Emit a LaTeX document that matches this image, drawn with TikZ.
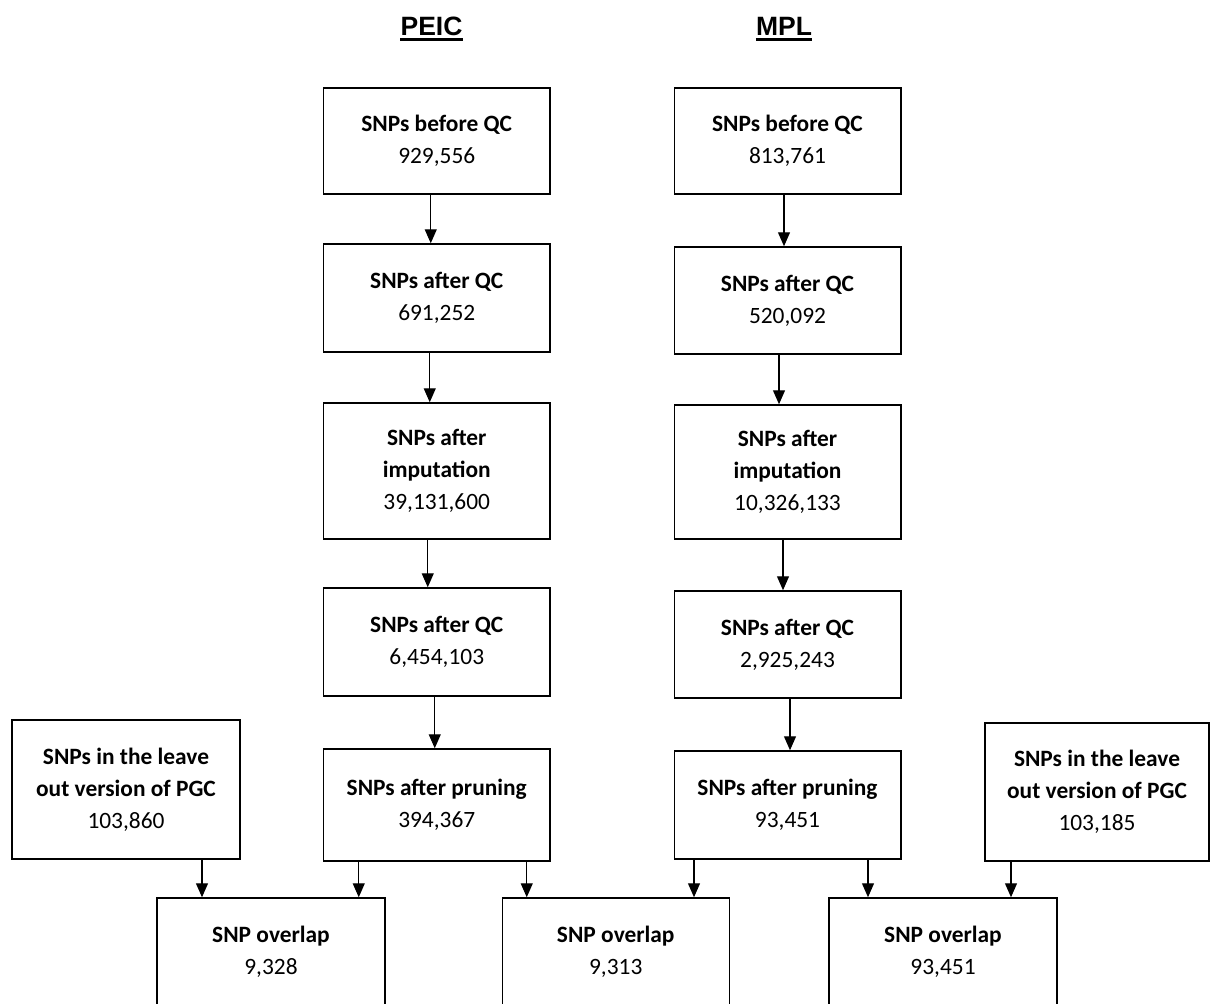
\documentclass[tikz,border=0pt]{standalone}
\usepackage{fontspec}
\setmainfont{Carlito}
\newfontfamily\titlefont{Liberation Sans}
\usetikzlibrary{arrows.meta}
\tikzset{
  stage/.style={draw, line width=1.5pt, minimum width=226.5pt, inner sep=0pt,
    align=center, font=\fontsize{23.4}{32}\selectfont},
  flow/.style={line width=1.2pt, -{Triangle[width=12pt,length=14pt]}},
  heading/.style={font=\titlefont\bfseries\fontsize{26.5}{30}\selectfont,
    inner sep=0pt, anchor=base},
  rule/.style={line width=2.4pt},
}
\begin{document}
\begin{tikzpicture}[x=1pt,y=-1pt]
\useasboundingbox (0,0) rectangle (1214,1003);
\clip (0,0) rectangle (1214,1003);

% column headings
\node[heading] (tp) at (431.5,36) {PEIC};
\node[heading] (tm) at (784,36) {MPL};
\draw[rule] ([yshift=-3.6pt]tp.base west) -- ([yshift=-3.6pt]tp.base east);
\draw[rule] ([yshift=-3.6pt]tm.base west) -- ([yshift=-3.6pt]tm.base east);

% PEIC pipeline
\node[stage, minimum height=106pt] (p1) at (436.75,141) {\textbf{SNPs before QC}\\929,556};
\node[stage, minimum height=108pt] (p2) at (436.75,298) {\textbf{SNPs after QC}\\691,252};
\node[stage, minimum height=136pt] (p3) at (436.75,471) {\textbf{SNPs after}\\\textbf{imputation}\\39,131,600};
\node[stage, minimum height=108pt] (p4) at (436.75,642) {\textbf{SNPs after QC}\\6,454,103};
\node[stage, minimum height=112pt] (p5) at (436.75,805) {\textbf{SNPs after pruning}\\394,367};

% MPL pipeline
\node[stage, minimum height=106pt] (m1) at (787.5,141) {\textbf{SNPs before QC}\\813,761};
\node[stage, minimum height=107pt] (m2) at (787.5,300.5) {\textbf{SNPs after QC}\\520,092};
\node[stage, minimum height=134pt] (m3) at (787.5,472) {\textbf{SNPs after}\\\textbf{imputation}\\10,326,133};
\node[stage, minimum height=107pt] (m4) at (787.5,644.5) {\textbf{SNPs after QC}\\2,925,243};
\node[stage, minimum height=108pt] (m5) at (787.5,805) {\textbf{SNPs after pruning}\\93,451};

% reference panels
\node[stage, minimum width=228pt, minimum height=139pt] (gl) at (126,789.5)
  {\textbf{SNPs in the leave}\\\textbf{out version of PGC}\\103,860};
\node[stage, minimum width=224pt, minimum height=138pt] (gr) at (1097,792)
  {\textbf{SNPs in the leave}\\\textbf{out version of PGC}\\103,185};

% overlaps
\node[stage, minimum width=228pt, minimum height=107pt] (o1) at (271,951.5) {\textbf{SNP overlap}\\9,328};
\node[stage, minimum width=227pt, minimum height=107pt] (o2) at (615.75,951.5) {\textbf{SNP overlap}\\9,313};
\node[stage, minimum width=228pt, minimum height=107pt] (o3) at (943,951.5) {\textbf{SNP overlap}\\93,451};

% PEIC arrows
\draw[flow] ([xshift=-6pt]p1.south) -- ([xshift=-6pt]p2.north);
\draw[flow] ([xshift=-7pt]p2.south) -- ([xshift=-7pt]p3.north);
\draw[flow] ([xshift=-9pt]p3.south) -- ([xshift=-9pt]p4.north);
\draw[flow] ([xshift=-2pt]p4.south) -- ([xshift=-2pt]p5.north);

% MPL arrows
\draw[flow] ([xshift=-3.5pt]m1.south) -- ([xshift=-3.5pt]m2.north);
\draw[flow] ([xshift=-8.5pt]m2.south) -- ([xshift=-8.5pt]m3.north);
\draw[flow] ([xshift=-4.5pt]m3.south) -- ([xshift=-4.5pt]m4.north);
\draw[flow] ([xshift=2.5pt]m4.south) -- ([xshift=2.5pt]m5.north);

% arrows into the overlaps
\draw[flow] ([xshift=76pt]gl.south) -- ([xshift=76pt]gl.south |- o1.north);
\draw[flow] ([xshift=-78pt]p5.south) -- ([xshift=-78pt]p5.south |- o1.north);
\draw[flow] ([xshift=90pt]p5.south) -- ([xshift=90pt]p5.south |- o2.north);
\draw[flow] ([xshift=-93.5pt]m5.south) -- ([xshift=-93.5pt]m5.south |- o2.north);
\draw[flow] ([xshift=80.5pt]m5.south) -- ([xshift=80.5pt]m5.south |- o3.north);
\draw[flow] ([xshift=-86pt]gr.south) -- ([xshift=-86pt]gr.south |- o3.north);
\end{tikzpicture}
\end{document}
